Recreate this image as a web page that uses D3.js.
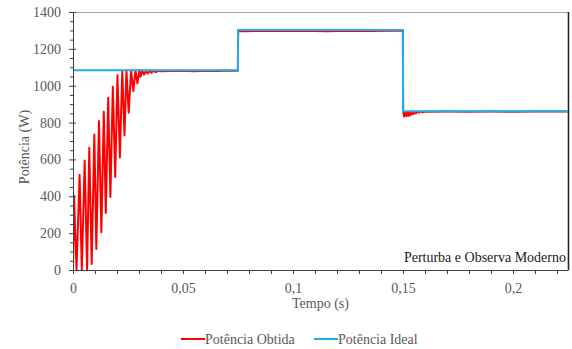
<!DOCTYPE html>
<html><head><meta charset="utf-8">
<script src="https://cdn.jsdelivr.net/npm/d3@7"></script>
<style>
html,body{margin:0;padding:0;background:#fff;}
svg{display:block;}
svg text{font-family:"Liberation Serif","Times New Roman",serif !important;}
</style></head>
<body><svg id="c" width="572" height="349"></svg>
<script>
// ---- data ----
const idealTime  = [0, 0.075, 0.075, 0.15, 0.15, 0.225];
const idealPower = [1084, 1084, 1302, 1302, 861, 861];

const obtainedTime = [
  0, 0.00045, 0.0016, 0.003, 0.004, 0.0053, 0.0064, 0.0074, 0.0085, 0.0097, 0.0106,
  0.0118, 0.0129, 0.014, 0.0149, 0.016, 0.017, 0.0181, 0.0192, 0.0202, 0.0213,
  0.0224, 0.0234, 0.0243, 0.0253, 0.0264, 0.0274, 0.0284, 0.0293, 0.0302, 0.0307,
  0.0314, 0.0323, 0.0331, 0.034, 0.0348, 0.0357, 0.0366, 0.0376, 0.0388, 0.040,
  0.045, 0.050, 0.055, 0.060, 0.065, 0.070, 0.0749,
  0.0751, 0.078, 0.085, 0.095, 0.105, 0.115, 0.125, 0.135, 0.145, 0.1499,
  0.1501, 0.1505, 0.151, 0.1515, 0.152, 0.1525, 0.153, 0.1535, 0.154, 0.1546,
  0.1552, 0.1558, 0.1565, 0.1572, 0.158, 0.159, 0.160, 0.162,
  0.170, 0.180, 0.190, 0.200, 0.210, 0.225
];
const obtainedPower = [
  0, 403, 0, 517, 0, 594, 0, 663, 33, 735, 114,
  808, 205, 859, 309, 935, 396, 995, 505, 1057, 610,
  1078, 730, 1082, 853, 1083, 971, 1084, 1013, 1084, 1049,
  1084, 1060, 1080, 1066, 1081, 1070, 1082, 1074, 1081, 1078,
  1080, 1081, 1079, 1081, 1080, 1081, 1081,
  1297, 1296, 1298, 1297, 1298, 1296, 1298, 1297, 1298, 1298,
  858, 833, 856, 834, 857, 836, 858, 840, 859, 845,
  860, 849, 860, 853, 860, 856, 860, 859,
  860, 859, 860, 859, 860, 860
];

const yMajorTicks = [0, 200, 400, 600, 800, 1000, 1200, 1400];
const yTickLabels = ["0", "200", "400", "600", "800", "1000", "1200", "1400"];
const xMajorTicks = [0, 0.05, 0.1, 0.15, 0.2];
const xTickLabels = ["0", "0,05", "0,1", "0,15", "0,2"];
const xMinorTicks = [0.01,0.02,0.03,0.04,0.06,0.07,0.08,0.09,0.11,0.12,0.13,0.14,0.16,0.17,0.18,0.19,0.21,0.22];
const yMinorTicks = [50,100,150,250,300,350,450,500,550,650,700,750,850,900,950,1050,1100,1150,1250,1300,1350];

const seriesNames = ["Potência Obtida", "Potência Ideal"];
const seriesColors = ["#ff0000", "#1fade4"];

// ---- chart ----
const svg = d3.select("#c");
const L = 73, R = 568, T = 12, B = 270;
const x = d3.scaleLinear().domain([0, 0.225]).range([L, R]);
const y = d3.scaleLinear().domain([0, 1400]).range([B, T]);
const grey = "#595959";
const FS = "14px";

// top & right borders
svg.append("line").attr("x1", L).attr("x2", R).attr("y1", T + 0.5).attr("y2", T + 0.5)
  .attr("stroke", "#a6a6a6").attr("stroke-width", 1);
svg.append("line").attr("x1", R + 0.5).attr("x2", R + 0.5).attr("y1", T).attr("y2", B)
  .attr("stroke", "#262626").attr("stroke-width", 1.6);

const line = d3.line().x(d => x(d[0])).y(d => y(d[1]));
svg.append("clipPath").attr("id", "cp").append("rect")
  .attr("x", L).attr("y", T - 2).attr("width", R - L).attr("height", B - T + 3);

const obtained = obtainedTime.map((t, i) => [t, obtainedPower[i]]);
const ideal = idealTime.map((t, i) => [t, idealPower[i]]);

svg.append("path").datum(obtained).attr("d", line).attr("fill", "none")
  .attr("stroke", seriesColors[0]).attr("stroke-width", 2).attr("stroke-linejoin", "round")
  .attr("clip-path", "url(#cp)");
svg.append("path").datum(ideal).attr("d", line).attr("fill", "none")
  .attr("stroke", seriesColors[1]).attr("stroke-width", 2);

// axes
const yAxis = svg.append("g").attr("transform", `translate(${L},0)`)
  .call(d3.axisLeft(y).tickValues(yMajorTicks).tickSize(4).tickPadding(8)
    .tickFormat((d, i) => yTickLabels[i]));
yAxis.selectAll(".tick line").attr("x1", 3);
const yMinor = svg.append("g").attr("transform", `translate(${L},0)`)
  .call(d3.axisLeft(y).tickValues(yMinorTicks).tickSize(3).tickFormat(""));
yMinor.selectAll(".tick line").attr("x1", 1);
yMinor.select(".domain").remove();

const xAxis = svg.append("g").attr("transform", `translate(0,${B})`)
  .call(d3.axisBottom(x).tickValues(xMajorTicks).tickSize(4).tickSizeOuter(0).tickPadding(9)
    .tickFormat((d, i) => xTickLabels[i]));
const xMinor = svg.append("g").attr("transform", `translate(0,${B})`)
  .call(d3.axisBottom(x).tickValues(xMinorTicks).tickSize(4).tickFormat(""));
xMinor.select(".domain").remove();

svg.selectAll("g").attr("font-family", "Liberation Serif").attr("font-size", 14);
svg.selectAll(".domain").attr("stroke", "#404040");
svg.selectAll(".tick line").attr("stroke", "#404040");
svg.selectAll(".tick text").attr("fill", grey).style("font-size", FS);
yAxis.select(".domain").attr("d", `M0.5,${B}V${T}`);

// axis titles
svg.append("text").attr("transform", `translate(29,147) rotate(-90)`).attr("text-anchor", "middle")
  .attr("fill", grey).style("font-size", FS).text("Potência  (W)");
svg.append("text").attr("x", (L + R) / 2).attr("y", 308).attr("text-anchor", "middle")
  .attr("fill", grey).style("font-size", FS).text("Tempo  (s)");

// annotation
svg.append("text").attr("x", 566).attr("y", 262).attr("text-anchor", "end")
  .attr("fill", "#1a1a1a").style("font-size", FS).text("Perturba e Observa Moderno");

// legend
const legX = [181, 314];
seriesNames.forEach((n, i) => {
  svg.append("line").attr("x1", legX[i]).attr("x2", legX[i] + 24).attr("y1", 339).attr("y2", 339)
    .attr("stroke", seriesColors[i]).attr("stroke-width", 2);
  svg.append("text").attr("x", legX[i] + 24).attr("y", 343.5).attr("fill", grey)
    .style("font-size", FS).text(n);
});
</script></body></html>
